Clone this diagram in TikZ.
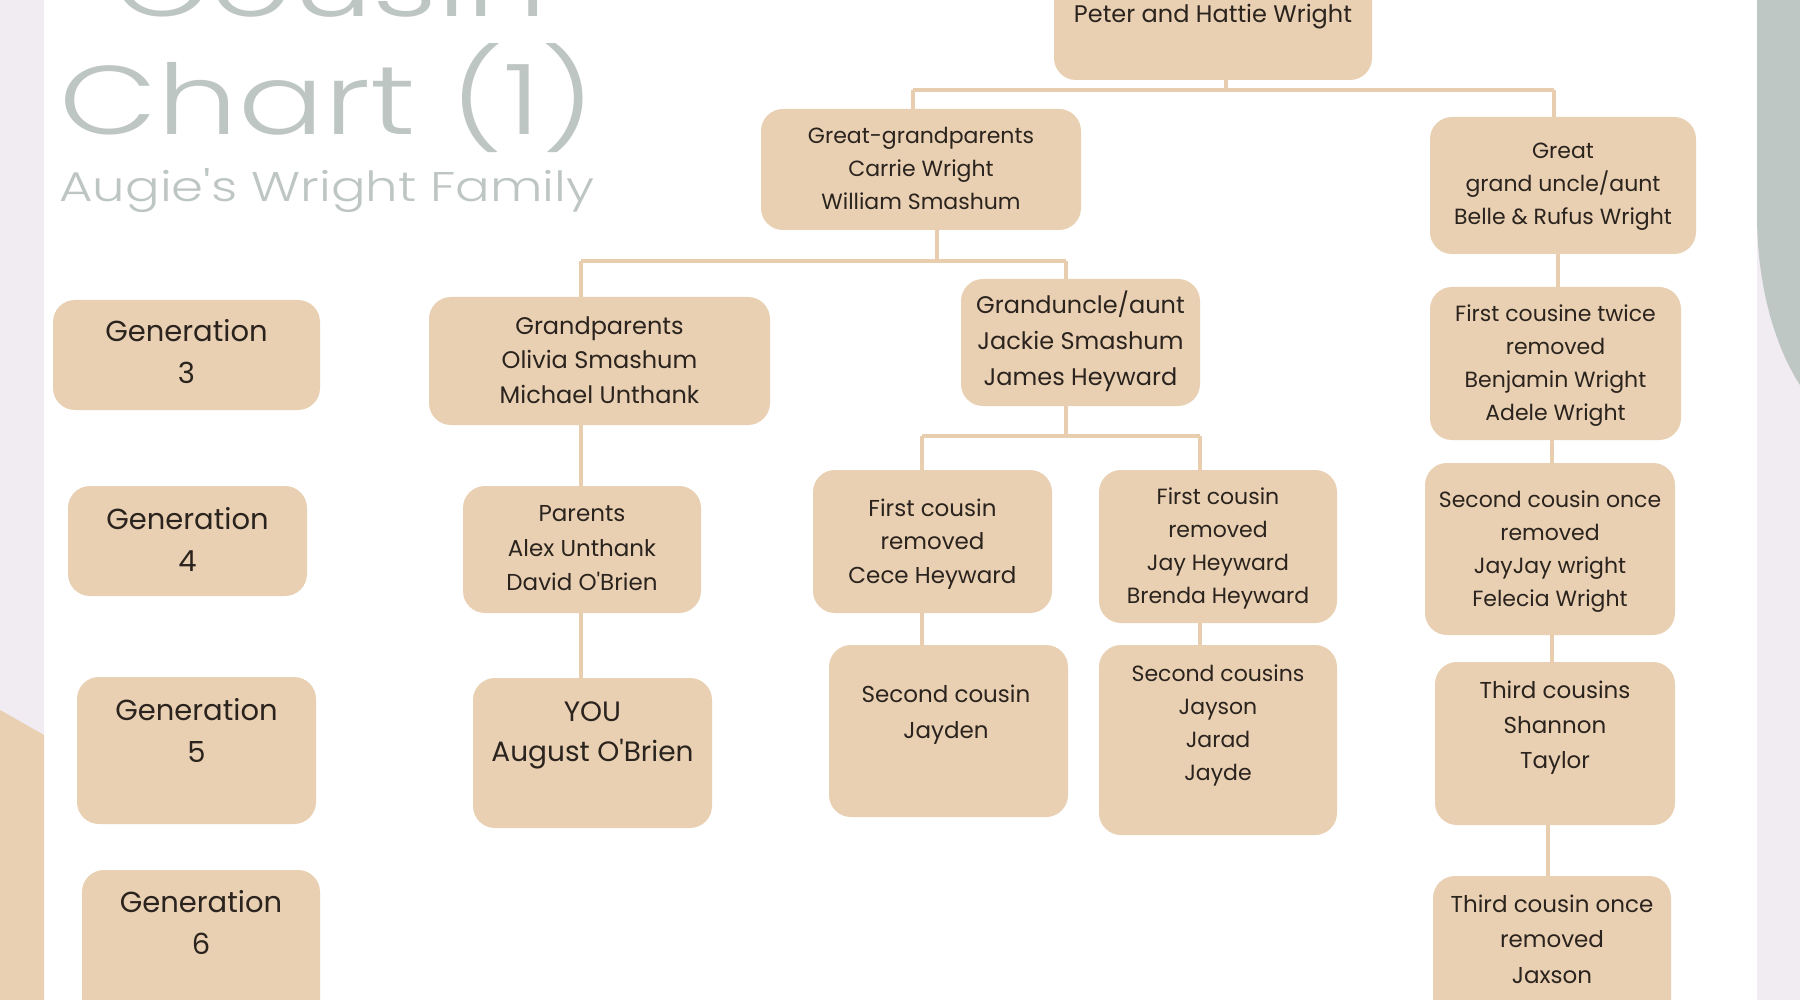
\documentclass[tikz,border=0pt]{standalone}
\usepackage{fontspec}
\usepackage{graphicx}
\setmainfont{Poppins}[Ligatures=TeXOff]
\IfFontExistsTF{Poppins Light}{\newfontfamily\titlefont{Poppins Light}[Ligatures=TeXOff]}{\newfontfamily\titlefont{Poppins}[Ligatures=TeXOff]}
\definecolor{beige}{HTML}{E9D0B2}
\definecolor{linecol}{HTML}{E8CDAE}
\definecolor{lav}{HTML}{F1EBF2}
\definecolor{sage}{HTML}{BFC7C4}
\definecolor{titlegray}{HTML}{BEC6C4}
\definecolor{ink}{HTML}{2A231E}
\newlength\chw
\newlength\chh
\tikzset{
  box/.style={fill=beige, draw=none, rounded corners=22pt, inner sep=0pt},
  txt/.style={align=center, text=ink, inner sep=0pt},
  conn/.style={draw=linecol, line width=4pt},
}
\begin{document}
\settowidth\chw{\titlefont\fontsize{100}{100}\selectfont Chart (1)}%
\settoheight\chh{\titlefont\fontsize{100}{100}\selectfont Chart (1)}%
\pgfmathsetmacro\sx{535/\chw}%
\pgfmathsetmacro\sy{91/\chh}%
\begin{tikzpicture}[x=1pt,y=-1pt]
\useasboundingbox (0,0) rectangle (1800,1000);
% background
\fill[white] (0,0) rectangle (1800,1000);
\fill[lav] (0,0) rectangle (44,1000);
\fill[lav] (1757,0) rectangle (1800,1000);
\fill[beige] (0,710) -- (44,735) -- (44,1000) -- (0,1000) -- cycle;
\fill[sage] (1757,0) -- (1757,215) .. controls (1757,290) and (1777,350) .. (1800,385) -- (1800,0) -- cycle;

% title
\node[anchor=base, inner sep=0pt, text=titlegray] (tcousin) at (330,17) {\scalebox{\sx}[\sy]{\titlefont\fontsize{100}{100}\selectfont Cousin}};
\node[anchor=base, inner sep=0pt, text=titlegray] (tchart) at (327,135) {\scalebox{\sx}[\sy]{\titlefont\fontsize{100}{100}\selectfont Chart (1)}};
\node[anchor=base, inner sep=0pt, text=titlegray] (tsub) at (327,202) {\resizebox{535pt}{33pt}{\titlefont Augie's Wright Family}};

% boxes
\node[box, minimum width=318pt, minimum height=120pt] (peter) at (1213,20) {};
\node[box, minimum width=320pt, minimum height=121pt] (gg) at (921,169.5) {};
\node[box, minimum width=266pt, minimum height=137pt] (gu) at (1563,185.5) {};
\node[box, minimum width=267pt, minimum height=110pt] (g3) at (186.5,355) {};
\node[box, minimum width=239pt, minimum height=110pt] (g4) at (187.5,541) {};
\node[box, minimum width=239pt, minimum height=147pt] (g5) at (196.5,750.5) {};
\node[box, minimum width=238pt, minimum height=160pt] (g6) at (201,950) {};
\node[box, minimum width=341pt, minimum height=128pt] (gp) at (599.5,361) {};
\node[box, minimum width=239pt, minimum height=127pt] (gua) at (1080.5,342.5) {};
\node[box, minimum width=238pt, minimum height=127pt] (par) at (582,549.5) {};
\node[box, minimum width=239pt, minimum height=150pt] (you) at (592.5,753) {};
\node[box, minimum width=239pt, minimum height=143pt] (fc1) at (932.5,541.5) {};
\node[box, minimum width=238pt, minimum height=153pt] (fc2) at (1218,546.5) {};
\node[box, minimum width=239pt, minimum height=172pt] (sc1) at (948.5,731) {};
\node[box, minimum width=238pt, minimum height=190pt] (sc2) at (1218,740) {};
\node[box, minimum width=251pt, minimum height=153pt] (fct) at (1555.5,363.5) {};
\node[box, minimum width=250pt, minimum height=172pt] (sco) at (1550,549) {};
\node[box, minimum width=240pt, minimum height=163pt] (tc) at (1555,743.5) {};
\node[box, minimum width=238pt, minimum height=154pt] (tco) at (1552,953) {};

% texts
\node[txt, font=\fontsize{24}{33}\selectfont] (petert) at (1213,17) {Peter and Hattie Wright};
\node[txt, font=\fontsize{22}{33}\selectfont] (ggt) at (921,168) {Great-grandparents\\Carrie Wright\\William Smashum};
\node[txt, font=\fontsize{22}{33}\selectfont] (gut) at (1563,187) {Great\\grand uncle/aunt\\Belle \& Rufus Wright};
\node[txt, font=\fontsize{29}{42}\selectfont] (g3t) at (186.5,352) {Generation\\3};
\node[txt, font=\fontsize{29}{42}\selectfont] (g4t) at (187.5,539) {Generation\\4};
\node[txt, font=\fontsize{29}{42}\selectfont] (g5t) at (196.5,730) {Generation\\5};
\node[txt, font=\fontsize{29}{42}\selectfont] (g6t) at (201,922) {Generation\\6};
\node[txt, font=\fontsize{24}{34.5}\selectfont] (gpt) at (599.5,360) {Grandparents\\Olivia Smashum\\Michael Unthank};
\node[txt, font=\fontsize{24}{36}\selectfont] (guat) at (1080.5,341) {Granduncle/aunt\\Jackie Smashum\\James Heyward};
\node[txt, font=\fontsize{23}{34.5}\selectfont] (part) at (582,548.5) {Parents\\Alex Unthank\\David O'Brien};
\node[txt, font=\fontsize{28}{40}\selectfont] (yout) at (592.5,735) {YOU\\August O'Brien};
\node[txt, font=\fontsize{23}{33.5}\selectfont] (fc1t) at (932.5,544) {First cousin\\removed\\Cece Heyward};
\node[txt, font=\fontsize{22}{33}\selectfont] (fc2t) at (1218,548) {First cousin\\removed\\Jay Heyward\\Brenda Heyward};
\node[txt, font=\fontsize{23}{36}\selectfont] (sc1t) at (946,714.5) {Second cousin\\Jayden};
\node[txt, font=\fontsize{22}{33}\selectfont] (sc2t) at (1218,725) {Second cousins\\Jayson\\Jarad\\Jayde};
\node[txt, font=\fontsize{22}{33}\selectfont] (fctt) at (1555.5,365.5) {First cousine twice\\removed\\Benjamin Wright\\Adele Wright};
\node[txt, font=\fontsize{22}{33}\selectfont] (scot) at (1550,551.5) {Second cousin once\\removed\\JayJay wright\\Felecia Wright};
\node[txt, font=\fontsize{23}{35}\selectfont] (tct) at (1555,727.5) {Third cousins\\Shannon\\Taylor};
\node[txt, font=\fontsize{23}{35.5}\selectfont] (tcot) at (1552,939) {Third cousin once\\removed\\Jaxson};

% connector junctions
\coordinate (j1) at (1226,90);
\coordinate (b1l) at (913,90);
\coordinate (b1r) at (1554,90);
\coordinate (j2) at (937,261);
\coordinate (b2l) at (581,261);
\coordinate (b2r) at (1066,261);
\coordinate (j3) at (1066,436);
\coordinate (b3l) at (922,436);
\coordinate (b3r) at (1200,436);
\coordinate (xr1) at (1558,0);
\coordinate (xr2) at (1552,0);
\coordinate (xr3) at (1548,0);

\draw[conn] (peter.south -| j1) -- (j1);
\draw[conn] (b1l) -- (b1r);
\draw[conn] (b1l) -- (gg.north -| b1l);
\draw[conn] (b1r) -- (gu.north -| b1r);

\draw[conn] (gg.south -| j2) -- (j2);
\draw[conn] (b2l) -- (b2r);
\draw[conn] (b2l) -- (gp.north -| b2l);
\draw[conn] (b2r) -- (gua.north -| b2r);
\draw[conn] (gp.south -| b2l) -- (par.north -| b2l);
\draw[conn] (par.south -| b2l) -- (you.north -| b2l);

\draw[conn] (gua.south -| j3) -- (j3);
\draw[conn] (b3l) -- (b3r);
\draw[conn] (b3l) -- (fc1.north -| b3l);
\draw[conn] (b3r) -- (fc2.north -| b3r);
\draw[conn] (fc1.south -| b3l) -- (sc1.north -| b3l);
\draw[conn] (fc2.south -| b3r) -- (sc2.north -| b3r);

\draw[conn] (gu.south -| xr1) -- (fct.north -| xr1);
\draw[conn] (fct.south -| xr2) -- (sco.north -| xr2);
\draw[conn] (sco.south -| xr2) -- (tc.north -| xr2);
\draw[conn] (tc.south -| xr3) -- (tco.north -| xr3);
\end{tikzpicture}
\end{document}
